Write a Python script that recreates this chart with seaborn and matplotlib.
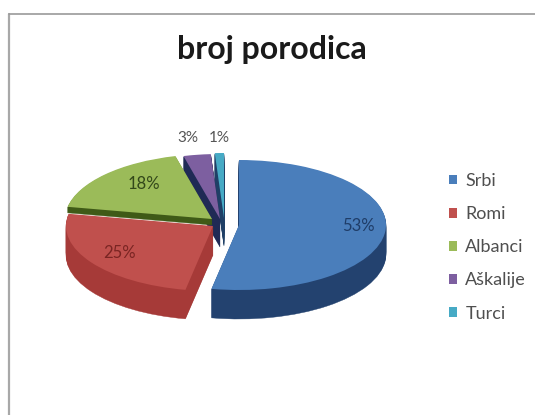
import matplotlib
matplotlib.use("Agg")
import matplotlib.pyplot as plt
from matplotlib.patches import Wedge
import seaborn as sns

categories = ["Srbi", "Romi", "Albanci", "Aškalije", "Turci"]
values = [53, 25, 18, 3, 1]
top_colors = ["#4A7EBB", "#C0504D", "#9BBB59", "#7D5FA0", "#46AAC5"]
side_colors = ["#23426F", "#A63A38", "#3F5A17", "#1F2A55", "#1F3F66"]
title = "broj porodica"

W, H = 535, 415
RX, RY = 147, 65
DEPTH = [29, 29, 6, 28, 28]
centers_px = [(239, 225), (213, 226), (212, 219), (220, 219), (224, 218)]
label_px = [(358, 226), (119, 253), (144, 184), (188, 138), (219, 138)]

sns.set_theme(style="white")
plt.rcParams["font.family"] = ["Lato", "DejaVu Sans"]

fig = plt.figure(figsize=(W / 100, H / 100), dpi=100, facecolor="white")
ax = fig.add_axes([0, 0, 1, 1])

yscale = RX / RY


def to_data(px, py):
    return px, (H - py) * yscale


wedges, _, autotexts = ax.pie(
    values, colors=top_colors, startangle=90, counterclock=False,
    radius=RX, autopct="%.0f%%", wedgeprops={"linewidth": 0},
    textprops={"fontsize": 12, "color": "#3a3a3a"},
)
ax.set_aspect("auto")
ax.set_xlim(0, W)
ax.set_ylim(0, H * yscale)
ax.set_position([0, 0, 1, 1])

order = [4, 3, 2, 0, 1]
for z, i in enumerate(order):
    w = wedges[i]
    cx, cy = to_data(*centers_px[i])
    for d in range(DEPTH[i], 0, -1):
        ax.add_patch(Wedge((cx, cy - d * yscale), RX, w.theta1, w.theta2,
                           facecolor=side_colors[i], edgecolor=side_colors[i],
                           linewidth=0.3, zorder=2 + z * 2))
    w.set_center((cx, cy))
    w.set_zorder(3 + z * 2)
    autotexts[i].set_position(to_data(*label_px[i]))
    autotexts[i].set_zorder(20)
    autotexts[i].set_ha("center")
    autotexts[i].set_va("center")

autotexts[0].set_color("#1F3D68")
autotexts[1].set_color("#7A2523")
autotexts[2].set_color("#33481A")
autotexts[3].set_color("#555555")
autotexts[4].set_color("#555555")
autotexts[3].set_fontsize(11)
autotexts[4].set_fontsize(11)

fig.text(271.5 / W, 1 - 50 / H, title, ha="center", va="center",
         fontsize=23, fontweight="bold", color="#1a1a1a")

leg = ax.legend(wedges, categories, loc="upper left",
                bbox_to_anchor=(449 / W, 1 - 173 / H), frameon=False,
                fontsize=13, labelspacing=0.95, handlelength=0.45,
                handleheight=0.45, handletextpad=0.45, borderpad=0, borderaxespad=0)
for t in leg.get_texts():
    t.set_color("#4f4f4f")

fig.add_artist(plt.Line2D([9 / W, 9 / W], [0, 1 - 14 / H], color="#a8a8a8", lw=1.6))
fig.add_artist(plt.Line2D([9 / W, 1], [1 - 14 / H, 1 - 14 / H], color="#9a9a9a", lw=1.2))

fig.savefig("out.png", dpi=100)
